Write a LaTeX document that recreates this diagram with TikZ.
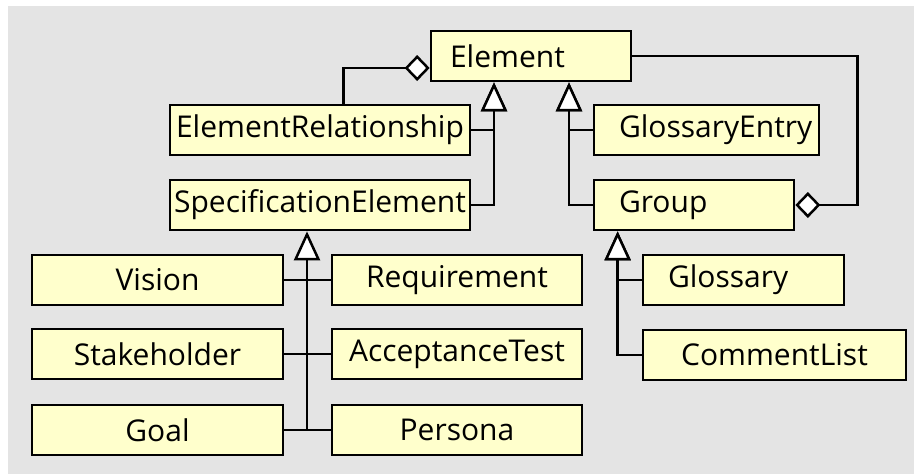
\documentclass[tikz,border=0pt]{standalone}
\usepackage{fontspec}
\setmainfont{Open Sans}
\usetikzlibrary{arrows.meta}
\definecolor{boxfill}{HTML}{FFFFCC}
\definecolor{backgray}{HTML}{E4E4E4}
\begin{document}
\begin{tikzpicture}[x=1pt, y=-1pt,
    cls/.style={draw, fill=boxfill, line width=2.7pt, minimum height=50pt, inner sep=0pt,
      font=\fontsize{30}{32}\selectfont},
    inh/.style={line width=2.5pt, -{Triangle[fill=white, width=26pt, length=29pt]}},
    agg/.style={line width=2.5pt, -{Diamond[fill=white, width=26pt, length=25pt]}},
    rel/.style={line width=2.5pt}]
      \useasboundingbox (0,0) rectangle (914,474);
      \fill[backgray] (8,6) rectangle (914,474);
      % classes
      \node[cls, text width=162pt, inner xsep=19pt, align=left] (element) at (531,56) {Element};
      \node[cls, minimum width=300pt] (erel) at (320,130) {ElementRelationship};
      \node[cls, minimum width=300pt] (specel) at (320,205) {SpecificationElement};
      \node[cls, text width=175pt, inner xsep=25pt, align=left] (gentry) at (706.5,130) {GlossaryEntry};
      \node[cls, text width=150pt, inner xsep=25pt, align=left] (group) at (694,205) {Group};
      \node[cls, minimum width=251pt] (vision) at (157.5,280) {Vision};
      \node[cls, minimum width=251pt] (stakeholder) at (157.5,354) {Stakeholder};
      \node[cls, minimum width=251pt] (goal) at (157.5,430) {Goal};
      \node[cls, minimum width=250pt] (requirement) at (457,280) {Requirement};
      \node[cls, minimum width=250pt] (acctest) at (457,354) {AcceptanceTest};
      \node[cls, minimum width=250pt] (persona) at (457,430) {Persona};
      \node[cls, text width=151pt, inner xsep=25pt, align=left] (glossary) at (743.5,280) {Glossary};
      \node[cls, minimum width=263pt] (commentlist) at (774.5,355) {CommentList};
      % aggregations
      \draw[agg] ([xshift=175pt]erel.north west) |- ([yshift=-12pt]element.west);
      \draw[agg] (element.east) -- ++(225,0) |- (group.east);
      % generalizations
      \draw[inh] (erel.east) -| ([xshift=-37pt]element.south);
      \draw[inh] (specel.east) -| ([xshift=-37pt]element.south);
      \draw[inh] (gentry.west) -| ([xshift=38pt]element.south);
      \draw[inh] (group.west) -| ([xshift=38pt]element.south);
      \draw[inh] (goal.east) -| ([xshift=-13pt]specel.south);
      \draw[rel] (vision.east) -- (requirement.west);
      \draw[rel] (stakeholder.east) -- (acctest.west);
      \draw[rel] (goal.east) -- (persona.west);
      \draw[inh] (glossary.west) -| ([xshift=25pt]group.south west);
      \draw[inh] (commentlist.west) -| ([xshift=25pt]group.south west);
\end{tikzpicture}
\end{document}
